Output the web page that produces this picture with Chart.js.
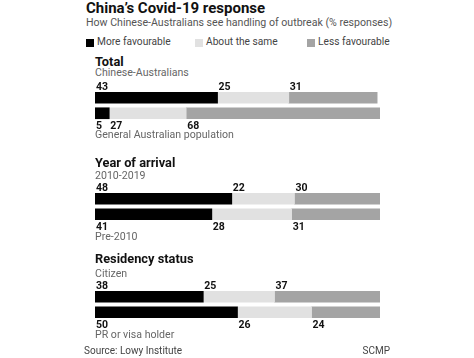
<!DOCTYPE html>
<html>
<head>
<meta charset="utf-8">
<script src="https://cdn.jsdelivr.net/npm/chart.js@4.4.1/dist/chart.umd.min.js"></script>
<style>
  body { margin: 0; width: 474px; height: 358px; background: #fff; position: relative; overflow: hidden;
         font-family: Roboto, "Liberation Sans", sans-serif; }
  .t { position: absolute; white-space: nowrap; line-height: 1; }
  .title { left: 86px; top: 1px; font-size: 15px; font-weight: 700; color: #111; }
  .sub { left: 86px; top: 18.4px; font-size: 10.6px; color: #555; }
  .leg { top: 37.1px; font-size: 10.2px; color: #444; }
  .box { position: absolute; top: 38.5px; width: 8px; height: 8px; }
  .head { left: 95px; font-size: 12.8px; font-weight: 700; color: #111; }
  .lab { left: 95px; font-size: 10.6px; color: #666; }
  .foot { top: 345.6px; font-size: 10px; color: #444; }
  .grp { position: absolute; left: 95px; width: 285px; height: 59px; }
</style>
</head>
<body>
<div class="t title">China’s Covid-19 response</div>
<div class="t sub">How Chinese-Australians see handling of outbreak (% responses)</div>

<div class="box" style="left:86px;background:#000"></div>
<div class="t leg" style="left:97px">More favourable</div>
<div class="box" style="left:195px;background:#e1e1e1"></div>
<div class="t leg" style="left:206px">About the same</div>
<div class="box" style="left:307px;background:#a4a4a4"></div>
<div class="t leg" style="left:318px">Less favourable</div>

<div class="t head" style="top:55.6px">Total</div>
<div class="t lab" style="top:68.1px">Chinese-Australians</div>
<div class="grp" style="top:75.75px"><canvas id="c1" width="285" height="59"></canvas></div>
<div class="t lab" style="top:130px">General Australian population</div>

<div class="t head" style="top:156.6px">Year of arrival</div>
<div class="t lab" style="top:171.1px">2010-2019</div>
<div class="grp" style="top:177.25px"><canvas id="c2" width="285" height="59"></canvas></div>
<div class="t lab" style="top:231.6px">Pre-2010</div>

<div class="t head" style="top:253.3px">Residency status</div>
<div class="t lab" style="top:269.4px">Citizen</div>
<div class="grp" style="top:275.2px"><canvas id="c3" width="285" height="59"></canvas></div>
<div class="t lab" style="top:329.8px">PR or visa holder</div>

<div class="t foot" style="left:84px">Source: Lowy Institute</div>
<div class="t foot" style="right:84px">SCMP</div>

<script>
const segments = ['More favourable', 'About the same', 'Less favourable'];
const colors = ['#000000', '#e1e1e1', '#a4a4a4'];

const totalRows = ['Chinese-Australians', 'General Australian population'];
const totalMore = [43, 5];
const totalSame = [25, 27];
const totalLess = [31, 68];

const arrivalRows = ['2010-2019', 'Pre-2010'];
const arrivalMore = [48, 41];
const arrivalSame = [22, 28];
const arrivalLess = [30, 31];

const residencyRows = ['Citizen', 'PR or visa holder'];
const residencyMore = [38, 50];
const residencySame = [25, 26];
const residencyLess = [37, 24];

// numbers sit above the first bar and under the second one, at the start of each segment
const valueLabels = {
  id: 'valueLabels',
  afterDatasetsDraw(chart) {
    const ctx = chart.ctx;
    ctx.save();
    ctx.font = 'bold 10.5px Roboto, sans-serif';
    ctx.fillStyle = '#111';
    ctx.textAlign = 'left';
    ctx.textBaseline = 'alphabetic';
    chart.data.datasets.forEach((ds, i) => {
      chart.getDatasetMeta(i).data.forEach((bar, j) => {
        const p = bar.getProps(['x', 'y', 'base', 'height'], true);
        const left = Math.min(p.x, p.base) + 1;
        const y = j === 0 ? p.y - p.height / 2 - 2.5 : p.y + p.height / 2 + 10;
        ctx.fillText(ds.data[j], left, y);
      });
    });
    ctx.restore();
  }
};

function makeChart(id, rows, more, same, less) {
  const values = [more, same, less];
  new Chart(document.getElementById(id), {
    type: 'bar',
    data: {
      labels: rows,
      datasets: segments.map((s, i) => ({
        label: s,
        data: values[i],
        backgroundColor: colors[i],
        borderWidth: 0,
        barThickness: 11
      }))
    },
    options: {
      indexAxis: 'y',
      responsive: false,
      animation: false,
      devicePixelRatio: 1,
      layout: { padding: { top: 14, bottom: 14, left: 0, right: 0 } },
      scales: {
        x: { stacked: true, min: 0, max: 100, display: false },
        y: { stacked: true, display: false }
      },
      plugins: { legend: { display: false }, tooltip: { enabled: false } }
    },
    plugins: [valueLabels]
  });
}

makeChart('c1', totalRows, totalMore, totalSame, totalLess);
makeChart('c2', arrivalRows, arrivalMore, arrivalSame, arrivalLess);
makeChart('c3', residencyRows, residencyMore, residencySame, residencyLess);
</script>
</body>
</html>
